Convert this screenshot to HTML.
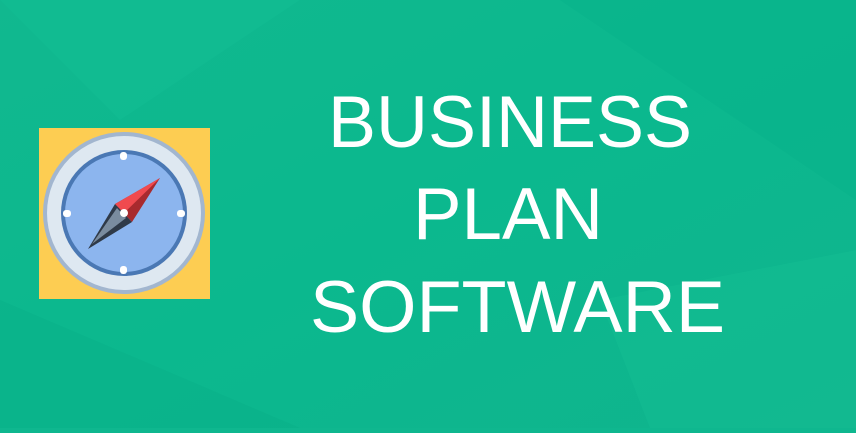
<!DOCTYPE html>
<html><head><style>
html,body{margin:0;padding:0;}
body{width:856px;height:428px;overflow:hidden;background:#0fb78f;}
</style></head><body>
<svg width="856" height="428" viewBox="0 0 856 428" xmlns="http://www.w3.org/2000/svg">
<defs>
<linearGradient id="bg" x1="0" y1="0" x2="1" y2="1">
<stop offset="0" stop-color="#11b88f"/><stop offset="0.5" stop-color="#0bb88e"/><stop offset="1" stop-color="#10b48d"/>
</linearGradient>
</defs>
<rect width="856" height="428" fill="url(#bg)"/>
<polygon points="0,0 300,0 120,120" fill="#13bc93" opacity="0.6"/>
<polygon points="560,0 856,0 856,200" fill="#09b28a" opacity="0.6"/>
<polygon points="0,300 300,428 0,428" fill="#0ab089" opacity="0.6"/>
<polygon points="600,300 856,250 856,428 650,428" fill="#13bd94" opacity="0.5"/>
<rect x="39" y="128" width="171" height="171" fill="#fdcd52"/>
<circle cx="124" cy="213" r="81" fill="#a2b6cf"/>
<circle cx="124" cy="213" r="77" fill="#dee8f1"/>
<circle cx="124" cy="213" r="63" fill="#4a78b4"/>
<circle cx="124" cy="213" r="59" fill="#8cb5ee"/>
<g fill="#fff">
<rect x="120" y="152" width="7" height="8" rx="3"/>
<rect x="120" y="266" width="7" height="8" rx="3"/>
<rect x="63" y="210" width="8" height="7" rx="3"/>
<rect x="177" y="210" width="8" height="7" rx="3"/>
</g>
<polygon points="160,178 115,204 132,222" fill="#a82a2e"/>
<polygon points="160,178 115,204 124,213" fill="#f04a4f"/>
<polygon points="88,249 115,204 132,222" fill="#2f3a48"/>
<polygon points="92,244 117,208 126,218" fill="#7a8c9f"/>
<circle cx="124" cy="213" r="4" fill="#fff"/>
<g fill="#fff" font-family="Liberation Sans, sans-serif" font-size="73" font-weight="normal">
<text x="328" y="147" textLength="364" lengthAdjust="spacingAndGlyphs">BUSINESS</text>
<text x="413" y="239" textLength="190" lengthAdjust="spacingAndGlyphs">PLAN</text>
<text x="310" y="332" textLength="415" lengthAdjust="spacingAndGlyphs">SOFTWARE</text>
</g>
</svg>
</body></html>
